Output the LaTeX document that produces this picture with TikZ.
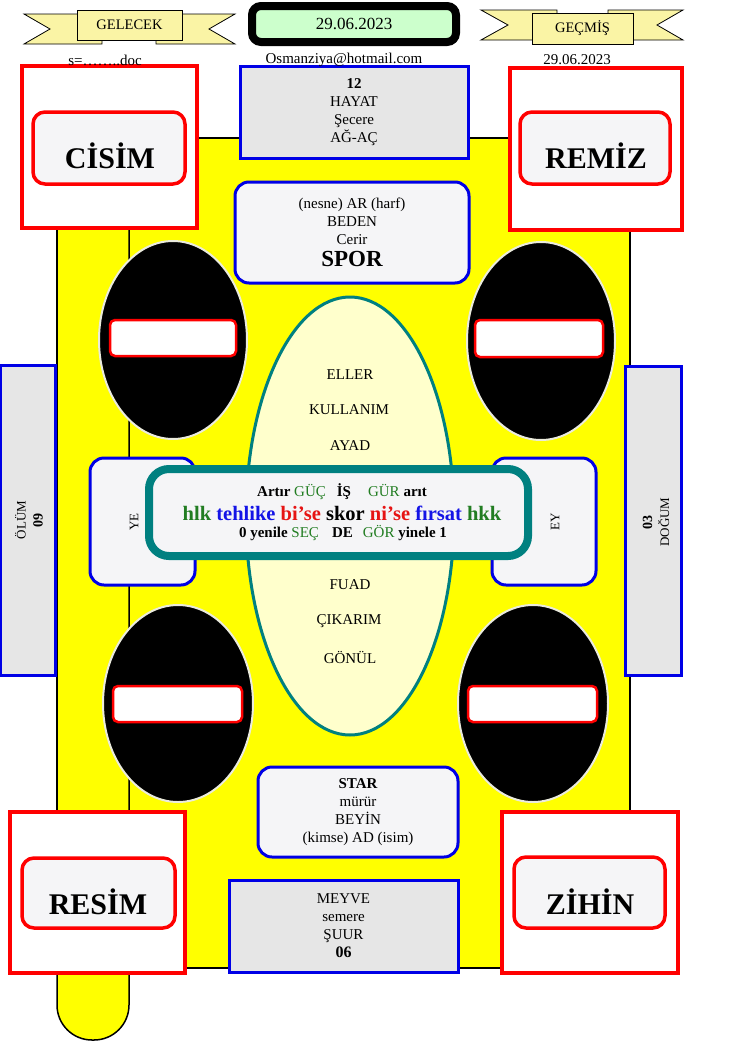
\documentclass[tikz,border=0pt]{standalone}
\usepackage{fontspec}
\setmainfont{Liberation Serif}
\usetikzlibrary{shapes.geometric}
\definecolor{ylw}{RGB}{255,255,0}
\definecolor{ban}{RGB}{250,244,165}
\definecolor{dategreen}{RGB}{204,255,204}
\definecolor{bblue}{RGB}{0,0,230}
\definecolor{boxgray}{RGB}{230,230,230}
\definecolor{boxlight}{RGB}{245,245,247}
\definecolor{tealc}{RGB}{0,128,128}
\definecolor{creamfill}{RGB}{255,255,204}
\definecolor{gtext}{RGB}{34,125,34}
\definecolor{btext}{RGB}{20,20,230}
\definecolor{rtext}{RGB}{230,20,20}
\definecolor{rimc}{RGB}{235,235,220}
\newcommand{\myfs}[2]{\fontsize{#1}{#2}\selectfont}
\tikzset{
  outerred/.style={draw=red, line width=3.5pt, fill=white, inner sep=0pt},
  innerred/.style={draw=red, line width=3.5pt, fill=boxlight, rounded corners=12pt, inner sep=0pt},
  bigword/.style={font=\myfs{30}{36}\bfseries, inner sep=0pt},
  sqbox/.style={draw=bblue, line width=3pt, fill=boxgray, inner sep=0pt, align=center, font=\myfs{15}{18}},
  rbox/.style={draw=bblue, line width=3pt, fill=boxlight, rounded corners=14pt, inner sep=0pt, align=center, font=\myfs{15}{18}},
  txt/.style={inner sep=0pt, align=center, font=\myfs{15}{18}},
  ovaltxt/.style={inner sep=0pt, font=\myfs{15}{18}},
  signell/.style={ellipse, fill=black, draw=rimc, line width=2pt, inner sep=0pt},
  signbar/.style={draw=red, line width=2.5pt, fill=white, rounded corners=5pt, inner sep=0pt},
  bannerpart/.style={draw=black, line width=0.8pt, fill=ban},
  bannerbox/.style={draw=black, line width=0.8pt, fill=ban, inner sep=0pt, font=\myfs{14.5}{17}}
}
\begin{document}
\begin{tikzpicture}[x=1pt,y=-1pt]
\useasboundingbox (0,0) rectangle (753,1042);
\fill[white] (0,0) rectangle (753,1042);
% yellow body
\draw[fill=ylw, line width=1.5pt] (57,138) rectangle (630,968);
\draw[fill=ylw, line width=1.5pt] (57,138) [rounded corners=35pt] -- (57,1040) -- (129,1040) [sharp corners] -- (129,138);
% no-entry signs
\node[signell, minimum width=148pt, minimum height=198pt] (s1) at (173,340) {};
\node[signbar, minimum width=126pt, minimum height=36pt] (b1) at (173,338) {};
\node[signell, minimum width=148pt, minimum height=198pt] (s2) at (541,341) {};
\node[signbar, minimum width=128pt, minimum height=37pt] (b2) at (539,338.5) {};
\node[signell, minimum width=150pt, minimum height=197pt] (s3) at (178,703.5) {};
\node[signbar, minimum width=129pt, minimum height=36pt] (b3) at (177.5,704) {};
\node[signell, minimum width=150pt, minimum height=197pt] (s4) at (533,703.5) {};
\node[signbar, minimum width=129pt, minimum height=36pt] (b4) at (532.5,704) {};
% central oval
\node[ellipse, draw=tealc, line width=3pt, fill=creamfill, minimum width=208pt, minimum height=438pt] (oval) at (350,516) {};
\node[ovaltxt] (e1) at (350,375) {ELLER};
\node[ovaltxt] (e2) at (349,410) {KULLANIM};
\node[ovaltxt] (e3) at (350,446) {AYAD};
\node[ovaltxt] (e4) at (350,585) {FUAD};
\node[ovaltxt] (e5) at (349,621) {ÇIKARIM};
\node[ovaltxt] (e6) at (350,657) {GÖNÜL};
% YE / EY
\node[rbox, minimum width=105pt, minimum height=127pt] (ye) at (142.5,521.5) {};
\node[txt, rotate=90, font=\myfs{13}{16}] (yet) at (134,522) {YE};
\node[rbox, minimum width=104pt, minimum height=127pt] (ey) at (544,521.5) {};
\node[txt, rotate=90, font=\myfs{13}{16}] (eyt) at (555,522) {EY};
% core box
\node[draw=tealc, line width=8pt, fill=boxlight, rounded corners=20pt, minimum width=379pt, minimum height=87pt] (core) at (338.5,512.5) {};
\node[txt, font=\myfs{15}{20}\bfseries] (c1) at (342,492) {Artır \textcolor{gtext}{\mdseries GÜÇ}\hspace{11pt}İŞ\hspace{17pt}\textcolor{gtext}{\mdseries GÜR} arıt};
\node[txt, font=\myfs{20.5}{24}\bfseries] (c2) at (342,513) {\textcolor{gtext}{hlk} \textcolor{btext}{tehlike} \textcolor{rtext}{bi’se} skor \textcolor{rtext}{ni’se} \textcolor{btext}{fırsat} \textcolor{gtext}{hkk}};
\node[txt, font=\myfs{15}{20}\bfseries] (c3) at (343,533) {0 yenile \textcolor{gtext}{\mdseries SEÇ}\hspace{13pt}DE\hspace{10pt}\textcolor{gtext}{\mdseries GÖR} yinele 1};
% top & bottom centre boxes
\node[sqbox, minimum width=228pt, minimum height=92pt] (hayat) at (354,112) {{\bfseries 12}\\HAYAT\\Şecere\\AĞ-AÇ};
\node[rbox, minimum width=234pt, minimum height=101pt] (spor) at (352,232.5) {(nesne) AR (harf)\\BEDEN\\Cerir\\[4pt]{\myfs{23}{24}\bfseries SPOR}};
\node[rbox, minimum width=200pt, minimum height=90pt] (star) at (358,812) {{\bfseries STAR}\\mürür\\BEYİN\\(kimse) AD (isim)};
\node[sqbox, minimum width=229pt, minimum height=92pt] (meyve) at (343.5,926) {MEYVE\\semere\\ŞUUR\\{\myfs{16}{18}\bfseries 06}};
% side boxes
\node[sqbox, minimum width=55pt, minimum height=310pt] (olum) at (28,520) {};
\node[txt, rotate=90, font=\myfs{13}{17}] (olumt) at (29,520) {ÖLÜM\\{\myfs{14}{17}\bfseries 09}};
\node[sqbox, minimum width=56pt, minimum height=309pt] (dogum) at (653,520.5) {};
\node[txt, rotate=90, font=\myfs{13}{17}] (dogumt) at (656,522) {{\myfs{14}{17}\bfseries 03}\\DOĞUM};
% corner boxes
\node[outerred, minimum width=175pt, minimum height=162pt] (cisimo) at (109.5,147) {};
\node[innerred, minimum width=152pt, minimum height=72pt] (cisimi) at (109,148) {};
\node[bigword] (cisim) at (110,156) {CİSİM};
\node[outerred, minimum width=172pt, minimum height=162pt] (remizo) at (596,149) {};
\node[innerred, minimum width=150pt, minimum height=72pt] (remizi) at (595,148) {};
\node[bigword] (remiz) at (596,156) {REMİZ};
\node[outerred, minimum width=175pt, minimum height=161pt] (resimo) at (97.5,892.5) {};
\node[innerred, minimum width=153pt, minimum height=70pt] (resimi) at (98.5,893) {};
\node[bigword] (resim) at (98,902) {RESİM};
\node[outerred, minimum width=176pt, minimum height=161pt] (zihino) at (590,892.5) {};
\node[innerred, minimum width=151pt, minimum height=71pt] (zihini) at (589.5,892.5) {};
\node[bigword] (zihin) at (590,902) {ZİHİN};
% banners
\draw[bannerpart] (24,14) -- (102,14) -- (102,44) -- (24,44) -- (50,29) -- cycle;
\draw[bannerpart] (235,14) -- (156,14) -- (156,44) -- (235,44) -- (209,29) -- cycle;
\node[bannerbox, minimum width=105pt, minimum height=30pt] (gelecek) at (129.5,25) {GELECEK};
\draw[bannerpart] (481,10) -- (557,10) -- (557,40) -- (481,40) -- (508,25) -- cycle;
\draw[bannerpart] (683,10) -- (608,10) -- (608,40) -- (683,40) -- (657,25) -- cycle;
\node[bannerbox, minimum width=101pt, minimum height=31pt] (gecmis) at (582.5,28.5) {GEÇMİŞ};
% date box
\node[draw=black, line width=8pt, fill=dategreen, rounded corners=9pt, minimum width=204pt, minimum height=36pt, inner sep=0pt, font=\myfs{17}{20}] (date) at (354,24) {29.06.2023};
% small texts
\node[txt] (sdoc) at (105,60) {s=……..doc};
\node[txt] (mail) at (344,60) {Osmanziya@hotmail.com};
\node[txt] (date2) at (577,60) {29.06.2023};
\end{tikzpicture}
\end{document}
